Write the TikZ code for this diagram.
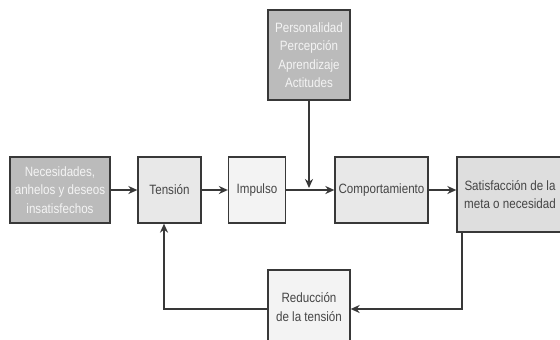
\documentclass[tikz,border=0pt]{standalone}
\usepackage{fontspec}
\setmainfont{Liberation Sans}[FakeStretch=0.86]
\usepackage{tikz}
\usetikzlibrary{arrows.meta}

\definecolor{boxline}{HTML}{383838}
\definecolor{darkfill}{HTML}{BBBBBB}
\definecolor{midfill}{HTML}{DEDEDE}
\definecolor{lightfill}{HTML}{E8E8E8}
\definecolor{palefill}{HTML}{F3F3F3}
\definecolor{darktext}{HTML}{454545}
\definecolor{paletext}{HTML}{F4F4F4}

\begin{document}
\begin{tikzpicture}[x=1pt,y=-1pt,
			    box/.style={inner sep=0mm,draw=boxline,line width=1.3pt,align=center,text=darktext,font=\fontsize{13.5}{18.5}\selectfont},
			    edge/.style={->,>={Stealth[length=9pt,width=8pt]},line width=1.6pt,draw=boxline},
			]
	    \useasboundingbox (0,0) rectangle (560,340);

	    \node[box,fill=darkfill,text=paletext,minimum width=100pt,minimum height=66pt] (needs) at (60,190) {Necesidades,\\anhelos y deseos\\insatisfechos};
	    \node[box,fill=lightfill,minimum width=63pt,minimum height=66pt] (tension) at (169.5,190) {Tensión};
	    \node[box,fill=palefill,minimum width=57pt,minimum height=66pt] (impulse) at (257,190) {Impulso};
	    \node[box,fill=lightfill,minimum width=93pt,minimum height=66pt] (behaviour) at (381.5,190) {Comportamiento};
	    \node[box,fill=midfill,minimum width=106pt,minimum height=75pt] (satisf) at (510,194.5) {Satisfacción de la\\meta o necesidad};
	    \node[box,fill=darkfill,text=paletext,minimum width=82pt,minimum height=90pt] (factors) at (309,55) {Personalidad\\Percepción\\Aprendizaje\\Actitudes};
	    \node[box,fill=palefill,minimum width=82pt,minimum height=74pt] (reduction) at (309,307) {Reducción\\de la tensión};

	    \coordinate (turnR) at (462,309);
	    \coordinate (turnL) at (164,309);

	    %main flow
	    \draw [edge] (needs) -- (tension);
	    \draw [edge] (tension) -- (impulse);
	    \draw [edge] (impulse) -- (behaviour);
	    \draw [edge] (behaviour) -- (needs -| satisf.west);
	    \draw [edge,shorten >=2pt] (factors) -- (factors |- impulse);

	    %feedback
	    \draw [edge] (satisf.south -| turnR) -- (turnR) -- (turnR -| reduction.east);
	    \draw [edge] (turnL -| reduction.west) -- (turnL) -- (turnL |- tension.south);
	\end{tikzpicture}
\end{document}
